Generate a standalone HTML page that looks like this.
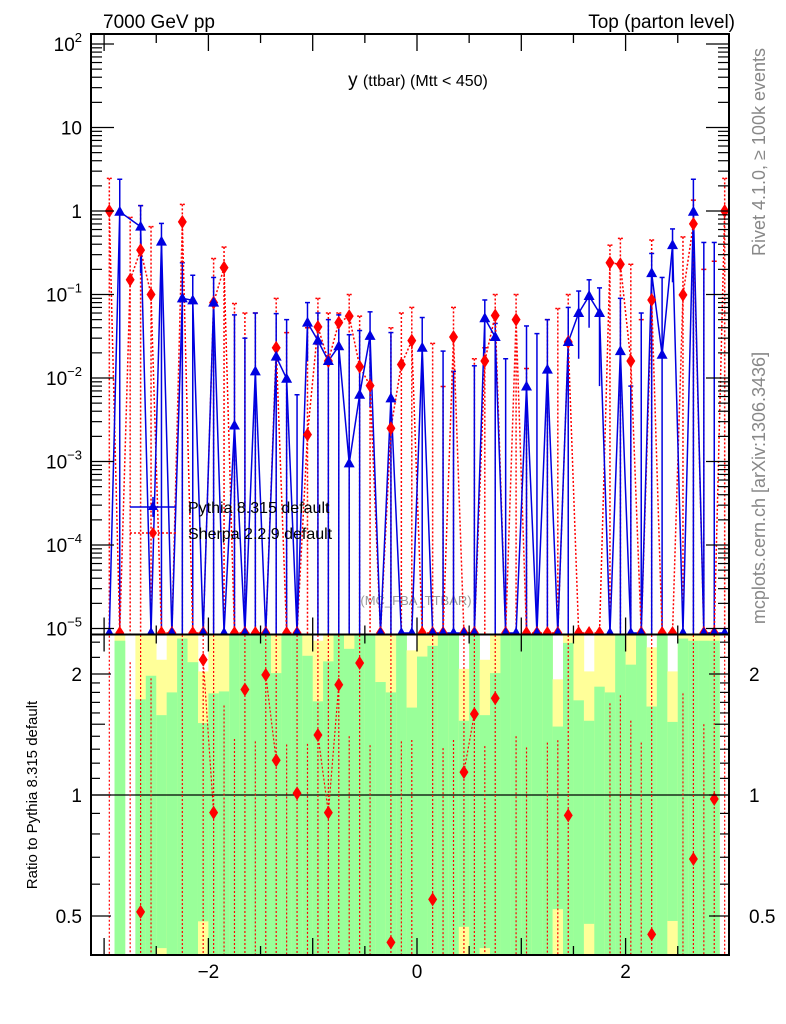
<!DOCTYPE html>
<html><head><meta charset="utf-8">
<style>
html,body{margin:0;padding:0;background:#fff;}
svg{display:block;font-family:"Liberation Sans",Arial,sans-serif;}
</style></head>
<body>
<svg id="plot" width="786" height="1024" viewBox="0 0 786 1024" xmlns="http://www.w3.org/2000/svg">
  <defs>
    <clipPath id="clipMain"><rect x="91" y="34" width="638" height="600.5"/></clipPath>
    <clipPath id="clipRatio"><rect x="91" y="635" width="638" height="320"/></clipPath>
  </defs>
  <text x="103" y="28" font-size="19">7000 GeV pp</text>
  <text x="735" y="28" font-size="19" text-anchor="end">Top (parton level)</text>
  <text x="418" y="86" text-anchor="middle" font-size="19">y <tspan font-size="16">(ttbar) (Mtt &lt; 450)</tspan></text>
  <text transform="translate(765,152) rotate(-90)" text-anchor="middle" font-size="18" fill="#888">Rivet 4.1.0, ≥ 100k events</text>
  <text transform="translate(765,488) rotate(-90)" text-anchor="middle" font-size="18" fill="#888">mcplots.cern.ch [arXiv:1306.3436]</text>
  <text x="416" y="605" text-anchor="middle" font-size="13" fill="#999">(MC_FBA_TTBAR)</text>
  <text transform="translate(37,795) rotate(-90)" text-anchor="middle" font-size="15">Ratio to Pythia 8.315 default</text>
  <g id="ratioLayer" clip-path="url(#clipRatio)"></g>
  <g id="mainLayer" clip-path="url(#clipMain)"></g>
  <g id="axes"></g>
  <g id="legend">
    <line x1="130" y1="507" x2="176" y2="507" stroke="#0000e0" stroke-width="1.5"/>
    <line x1="153" y1="497" x2="153" y2="517" stroke="#0000e0" stroke-width="1.5"/>
    <polygon points="153,501 158,510 148,510" fill="#0000e0"/>
    <text x="188" y="513" font-size="16">Pythia 8.315 default</text>
    <line x1="130" y1="533" x2="176" y2="533" stroke="#f00" stroke-width="1.5" stroke-dasharray="2,2"/>
    <polygon points="153,527 157,533 153,539 149,533" fill="#f00"/>
    <text x="188" y="539" font-size="16">Sherpa 2.2.9 default</text>
  </g>
</svg>
<script>
const binCenters = [-2.95,-2.85,-2.75,-2.65,-2.55,-2.45,-2.35,-2.25,-2.15,-2.05,-1.95,-1.85,-1.75,-1.65,-1.55,-1.45,-1.35,-1.25,-1.15,-1.05,-0.95,-0.85,-0.75,-0.65,-0.55,-0.45,-0.35,-0.25,-0.15,-0.05,0.05,0.15,0.25,0.35,0.45,0.55,0.65,0.75,0.85,0.95,1.05,1.15,1.25,1.35,1.45,1.55,1.65,1.75,1.85,1.95,2.05,2.15,2.25,2.35,2.45,2.55,2.65,2.75,2.85,2.95];
const pythiaVals = [0,0.98,null,0.65,0,0.43,0,0.09,0.085,0,0.08,0,0.0027,0,0.012,0,0.018,0.0098,0,0.046,0.028,0.016,0.024,0.00095,0.0063,0.032,0,0.0057,0,0,0.023,0,0,0,0,0,0.052,0.031,0,0,0.0079,0,0.0126,0,0.027,0.06,0.096,0.06,0,0.021,0,0,0.18,0.019,0.39,0,0.98,0,0,0];
const sherpaVals = [1.0,0,0.15,0.34,0.10,0,0,0.74,0,0,0.08,0.21,0,0,0,0,0.023,0,0,0.0021,0.041,0.016,0.046,0.055,0.0137,0.0081,0,0.0025,0.0145,0.028,0,0,0,0.031,0,0,0.016,0.056,0,0.05,0,0,0,0,0.027,0,0,0,0.24,0.23,0.016,0,0.086,0,0,0.099,0.70,0,0,1.0];
const pythiaErrTop = [null,2.4,null,1.16,null,0.71,null,0.24,0.17,null,0.16,null,0.057,0.03,0.06,null,0.059,0.05,0.0063,0.08,0.06,0.05,0.057,0.033,0.037,0.062,null,0.035,null,null,0.053,null,0.021,0.012,null,0.014,0.086,0.045,0.017,null,0.042,0.034,0.05,null,0.07,0.11,0.15,0.12,null,0.09,0.008,0.06,0.31,0.16,0.61,null,2.4,0.42,0.42,null];
const pythiaErrBot = [0,0,0,0.18,0,0,0,0,0,0,0,0,0,0,0,0,0,0,0,0.016,0,0,0,0,0,0.0045,0,0,0,0,0,0,0,0,0,0,0.02,0,0,0,0,0,0,0,0,0.017,0.04,0.008,0,0,0,0,0,0,0.14,0,0,0,0,0];
const sherpaErrTop = [2.46,null,0.84,1.16,0.65,null,null,1.2,null,null,0.27,0.37,0.078,0.06,0.06,null,0.09,0.035,null,0.04,0.09,0.06,0.06,0.1,0.055,0.03,null,0.04,0.06,0.07,null,0.026,0.0079,0.07,null,0.017,0.023,0.1,null,0.1,0.013,null,0.05,0.068,0.1,null,null,null,0.39,0.47,0.23,0.05,0.45,null,null,0.49,1.35,0.2,0.25,2.46];
const ratioVals = [null,null,null,0.512,null,null,null,null,null,2.17,0.904,null,null,1.83,null,1.99,1.22,null,1.01,null,1.41,0.904,1.88,null,2.13,null,null,0.43,null,null,null,0.55,null,null,1.14,1.59,null,1.74,null,null,null,null,null,null,0.89,null,null,null,null,null,null,null,0.45,null,null,null,0.693,null,0.977,null];
const bandGreenTop = [null,2.42,null,1.73,1.98,1.58,1.80,2.45,2.14,1.51,1.79,1.81,2.5,2.5,2.5,2.5,2.01,2.5,2.5,2.22,1.71,2.15,2.5,2.31,2.5,2.5,1.91,1.80,2.5,1.65,2.21,2.35,2.5,2.5,1.53,2.5,1.58,2.01,2.5,2.5,2.5,2.5,2.5,1.48,2.39,1.72,1.53,1.86,1.80,2.5,2.11,2.5,1.66,2.5,1.52,2.45,2.42,2.42,2.42,null];
const bandYellowTop = [null,2.5,null,2.5,2.5,2.17,2.5,2.5,2.5,2.03,2.5,2.5,2.5,2.5,2.5,2.5,2.5,2.5,2.5,2.5,2.42,2.5,2.5,2.5,2.5,2.5,2.5,2.5,2.5,2.29,2.5,2.5,2.5,2.5,2.06,2.5,2.17,2.5,2.5,2.5,2.5,2.5,2.5,1.94,2.5,2.5,2.03,2.5,2.5,2.5,2.5,2.5,2.33,2.5,2.03,2.5,2.5,2.5,2.5,null];
const bandGreenBot = [null,0.4,null,0.4,0.4,0.416,0.4,0.4,0.4,0.485,0.4,0.4,0.4,0.4,0.4,0.4,0.4,0.4,0.4,0.4,0.4,0.4,0.4,0.4,0.4,0.4,0.4,0.4,0.4,0.4,0.4,0.4,0.4,0.4,0.47,0.4,0.416,0.4,0.4,0.4,0.4,0.4,0.4,0.52,0.4,0.4,0.478,0.4,0.4,0.4,0.4,0.4,0.4,0.4,0.486,0.4,0.4,0.4,0.4,null];
const xTickLabels = ["−2","0","2"];
const xTickValues = [-2,0,2];
const mainTickExps = [2,1,0,-1,-2,-3,-4,-5];
const ratioTickValues = [0.5,1,2];
const ratioTickLabels = ["0.5","1","2"];

const NS = "http://www.w3.org/2000/svg";
const X0 = 91, X1 = 729, YT = 34, YM = 634.5, YB = 955;
const BW = 0.1;
function xs(c){ return 417 + 104.3*c; }
function ysMain(v){ return 211 - 83.5*Math.log10(v); }
function ysVal(v){ return (v===0) ? 633 : ysMain(v); }
function ysRatio(r){ return 795 - 121*Math.log2(r); }
function mk(tag, attrs, parent){ const e=document.createElementNS(NS,tag); for(const k in attrs) e.setAttribute(k,attrs[k]); parent.appendChild(e); return e; }

const mainL = document.getElementById('mainLayer');
const ratioL = document.getElementById('ratioLayer');
const axes = document.getElementById('axes');

binCenters.forEach((c,i)=>{
  if(bandGreenTop[i]===null) return;
  const xl = xs(c-BW/2), w = xs(c+BW/2)-xl;
  const yy = mk('rect',{x:xl,y:ysRatio(bandYellowTop[i]),width:w+0.3,height:ysRatio(0.4)-ysRatio(bandYellowTop[i]),fill:'#ffff99'},ratioL);
  
  
  const g = mk('rect',{x:xl,y:ysRatio(bandGreenTop[i]),width:w+0.3,height:ysRatio(bandGreenBot[i])-ysRatio(bandGreenTop[i]),fill:'#99ff99'},ratioL);
  
  
});
mk('line',{x1:X0,x2:X1,y1:ysRatio(1),y2:ysRatio(1),stroke:'#000','stroke-width':1.2},ratioL);
binCenters.forEach((c,i)=>{
  if(sherpaErrTop[i]===null && ratioVals[i]===null) return;
  const l = mk('line',{x1:xs(c),x2:xs(c),y1:(ratioVals[i]!==null?635:ysRatio(1.3+ (sherpaErrTop[i]||0))),y2:955,stroke:'#f00','stroke-width':1.2,'stroke-dasharray':'2,2'},ratioL);
  
  
});
for(let i=1;i<binCenters.length;i++){
  if(ratioVals[i]!==null && ratioVals[i-1]!==null){
    mk('line',{x1:xs(binCenters[i-1]),y1:ysRatio(ratioVals[i-1]),x2:xs(binCenters[i]),y2:ysRatio(ratioVals[i]),stroke:'#f00','stroke-width':1.2,'stroke-dasharray':'2,2'},ratioL);
  }
}
binCenters.forEach((c,i)=>{
  if(ratioVals[i]===null) return;
  const x=xs(c), y=ysRatio(ratioVals[i]);
  const p = mk('polygon',{points:`${x},${y-7} ${x+4.5},${y} ${x},${y+7} ${x-4.5},${y}`,fill:'#f00'},ratioL);
  
  
});

function drawErr(vals, tops, bots, color, dash, name){
  binCenters.forEach((c,i)=>{
    if(tops[i]===null) return;
    const x=xs(c);
    const bot = (bots && bots[i]) ? ysMain(bots[i]) : 640;
    const a={x1:x,x2:x,y1:ysMain(tops[i]),y2:bot,stroke:color,'stroke-width':1.5};
    if(dash) a['stroke-dasharray']='2,2';
    const l = mk('line',a,mainL);
    
    
    const cap={x1:x-2.5,x2:x+2.5,y1:ysMain(tops[i]),y2:ysMain(tops[i]),stroke:color,'stroke-width':1.5};
    if(dash) cap['stroke-dasharray']='2,1';
    mk('line',cap,mainL);
  });
}
drawErr(sherpaVals, sherpaErrTop, null, '#f00', true, 'sherpa-error-bar');
drawErr(pythiaVals, pythiaErrTop, pythiaErrBot, '#0000e0', false, 'pythia-error-bar');

function linePts(vals){
  const pts=[];
  binCenters.forEach((c,i)=>{ if(vals[i]!==null) pts.push(xs(c)+','+ysVal(vals[i])); });
  return pts.join(' ');
}
const sl = mk('polyline',{points:linePts(sherpaVals),fill:'none',stroke:'#f00','stroke-width':1.5,'stroke-dasharray':'2,2'},mainL);


const pl = mk('polyline',{points:linePts(pythiaVals),fill:'none',stroke:'#0000e0','stroke-width':1.5},mainL);



binCenters.forEach((c,i)=>{
  const v=sherpaVals[i]; if(v===null) return;
  const x=xs(c), y=ysVal(v);
  const p = mk('polygon',{points:`${x},${y-7} ${x+4.5},${y} ${x},${y+7} ${x-4.5},${y}`,fill:'#f00'},mainL);
  
  
});
binCenters.forEach((c,i)=>{
  const v=pythiaVals[i]; if(v===null) return;
  const x=xs(c), y=ysVal(v);
  const p = mk('polygon',{points:`${x},${y-6} ${x+5.5},${y+4} ${x-5.5},${y+4}`,fill:'#0000e0'},mainL);
  
  
});

const f1 = mk('rect',{x:X0,y:YT,width:X1-X0,height:YM-YT,fill:'none',stroke:'#000','stroke-width':2},axes);


const f2 = mk('rect',{x:X0,y:YM,width:X1-X0,height:YB-YM,fill:'none',stroke:'#000','stroke-width':2},axes);



for(let k=-6;k<=6;k++){
  const c=k*0.5, x=xs(c);
  if(x<X0||x>X1) continue;
  const major = (k%2===0);
  const L = major?17:9;
  mk('line',{x1:x,x2:x,y1:YT,y2:YT+L,stroke:'#000','stroke-width':1.3},axes);
  mk('line',{x1:x,x2:x,y1:YM,y2:YM-L,stroke:'#000','stroke-width':1.3},axes);
  mk('line',{x1:x,x2:x,y1:YM,y2:YM+L,stroke:'#000','stroke-width':1.3},axes);
  mk('line',{x1:x,x2:x,y1:YB,y2:YB-L,stroke:'#000','stroke-width':1.3},axes);
}
xTickValues.forEach((v,i)=>{
  const t = mk('text',{x:xs(v),y:978,'text-anchor':'middle','font-size':19},axes);
  t.textContent = xTickLabels[i];
  
  
});

mainTickExps.forEach(e=>{
  const y = ysMain(Math.pow(10,e));
  mk('line',{x1:X0,x2:X0+23,y1:y,y2:y,stroke:'#000','stroke-width':1.3},axes);
  mk('line',{x1:X1,x2:X1-23,y1:y,y2:y,stroke:'#000','stroke-width':1.3},axes);
  if(e<2){
    for(let m=2;m<=9;m++){
      const ym = ysMain(m*Math.pow(10,e));
      if(ym<YT) continue;
      mk('line',{x1:X0,x2:X0+11,y1:ym,y2:ym,stroke:'#000','stroke-width':1.2},axes);
      mk('line',{x1:X1,x2:X1-11,y1:ym,y2:ym,stroke:'#000','stroke-width':1.2},axes);
    }
  }
  const t = mk('text',{x:82,y:y+7,'text-anchor':'end','font-size':19},axes);
  
  
  if(e===1) t.textContent='10';
  else if(e===0) t.textContent='1';
  else {
    t.textContent='10';
    const s = document.createElementNS(NS,'tspan');
    s.setAttribute('font-size','13'); s.setAttribute('dy','-9');
    s.textContent = (e<0?'−':'')+Math.abs(e);
    t.appendChild(s);
  }
});
const ratioMinor=[0.4,0.6,0.7,0.8,0.9,1.1,1.2,1.3,1.4,1.5,1.6,1.7,1.8,1.9,2.2,2.4];
ratioMinor.forEach(r=>{
  const y=ysRatio(r); const L=(r===1.5)?14:9;
  mk('line',{x1:X0,x2:X0+L,y1:y,y2:y,stroke:'#000','stroke-width':1.2},axes);
  mk('line',{x1:X1,x2:X1-L,y1:y,y2:y,stroke:'#000','stroke-width':1.2},axes);
});
ratioTickValues.forEach((r,i)=>{
  const y=ysRatio(r);
  mk('line',{x1:X0,x2:X0+20,y1:y,y2:y,stroke:'#000','stroke-width':1.3},axes);
  mk('line',{x1:X1,x2:X1-20,y1:y,y2:y,stroke:'#000','stroke-width':1.3},axes);
  const t=mk('text',{x:82,y:y+7,'text-anchor':'end','font-size':19},axes);
  t.textContent=ratioTickLabels[i];
  
  
  const t2=mk('text',{x:749,y:y+7,'text-anchor':'start','font-size':19},axes);
  t2.textContent=ratioTickLabels[i];
  
  
});
</script>
</body></html>
